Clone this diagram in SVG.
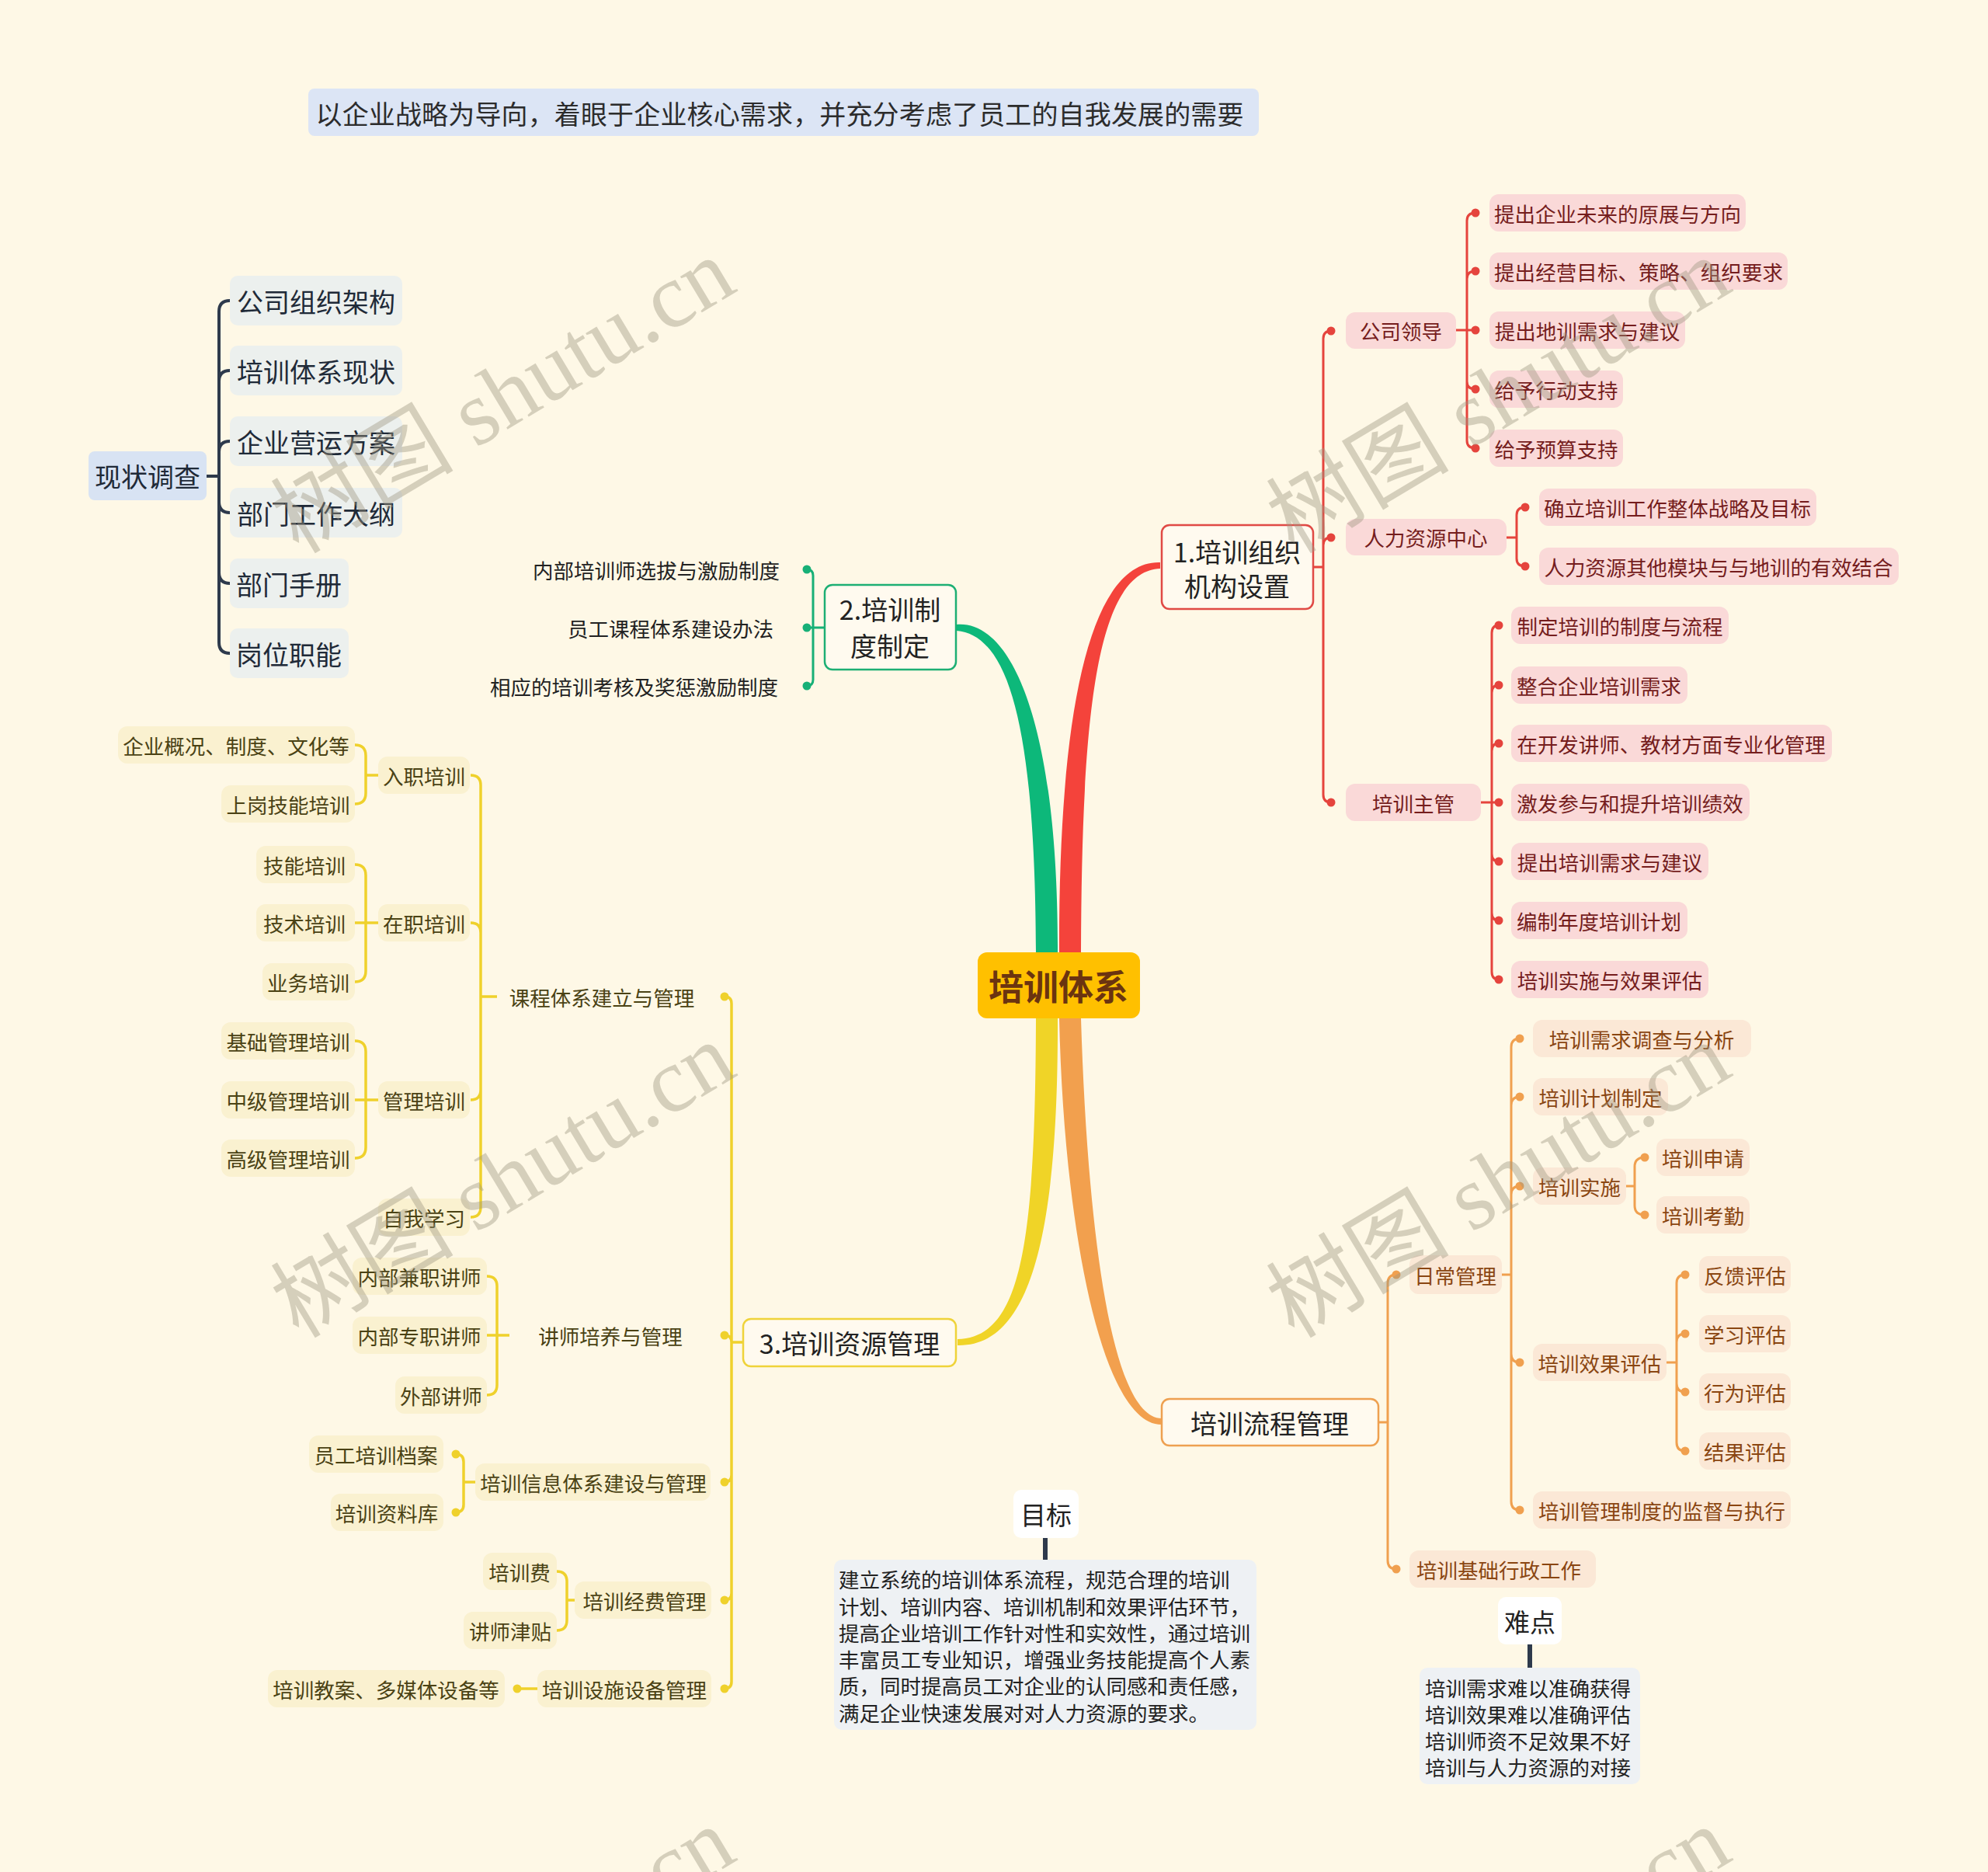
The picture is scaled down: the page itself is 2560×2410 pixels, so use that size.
<svg xmlns="http://www.w3.org/2000/svg" width="2560" height="2410" viewBox="0 0 2560 2410">
<style>
text{font-family:"Noto Sans CJK SC","Noto Sans",sans-serif;dominant-baseline:central}
.c{text-anchor:middle}.e{text-anchor:end}.st{text-anchor:start}
.f26{font-size:26.5px}.f34{font-size:34px}.f33{font-size:33px}
.l1{fill:#FFFAEF;stroke-width:2.5}
.rb{fill:#FAD9D8}.rt{fill:#751D1D}
.ob{fill:#FBE8D6}.ot{fill:#8A4612}
.yb{fill:#FAF1D0}.yt{fill:#4A4214}
.nb{fill:#ECF0EE}.nt{fill:#1F2A38}
.dk{fill:#222}
.cr{stroke:#E5443D;stroke-width:3;fill:none}
.cg{stroke:#17B077;stroke-width:3;fill:none}
.cy{stroke:#EFD12C;stroke-width:3.5;fill:none}
.co{stroke:#F0A04F;stroke-width:3;fill:none}
.cn{stroke:#2E3A4C;stroke-width:4;fill:none}
.dr{fill:#E5443D}.dg{fill:#17B077}.dy{fill:#EFD12C}.do{fill:#F0A04F}
.wm{font-family:"Liberation Serif","Noto Sans CJK SC",serif;font-size:118px;fill:#9E9680;fill-opacity:0.42;text-anchor:middle}
</style>
<rect width="2560" height="2410" fill="#FEF8E6"/>

<g id="connectors">
  <path d="M1334 1226C1333 930 1298 818 1232 812L1232 804C1302 798 1363 930 1362 1226Z" fill="#0DB87A"/>
  <path d="M1364 1226C1363 930 1400 721 1494 724L1494 732C1410 735 1393 930 1392 1226Z" fill="#F4433B"/>
  <path d="M1334 1311C1333 1600 1316 1722 1233 1724L1233 1732C1324 1734 1363 1600 1362 1311Z" fill="#F0D427"/>
  <path d="M1364 1311C1370 1585 1420 1835 1496 1834L1496 1826C1430 1826 1400 1575 1392 1311Z" fill="#F2A04E"/>

  <path class="cr" d="M1691 730H1704M1704 730V436Q1704 426 1714 426M1704 730V702Q1704 692 1714 692M1704 730V1023Q1704 1033 1714 1033"/>
  <path class="cr" d="M1875 425H1900M1889 426V284Q1889 274 1900 274M1889 426V359Q1889 349 1900 349M1889 426V491Q1889 501 1900 501M1889 426V567Q1889 577 1900 577"/>
  <path class="cr" d="M1940 692H1953M1953 692V663Q1953 653 1964 653M1953 692V719Q1953 729 1964 729"/>
  <path class="cr" d="M1907 1033H1930M1921 1033V815Q1921 805 1930 805M1921 1033V892Q1921 882 1930 882M1921 1033V967Q1921 957 1930 957M1921 1033V1099Q1921 1109 1930 1109M1921 1033V1175Q1921 1185 1930 1185M1921 1033V1251Q1921 1261 1930 1261"/>
  <g class="dr">
    <circle cx="1714" cy="426" r="5.5"/><circle cx="1714" cy="692" r="5.5"/><circle cx="1714" cy="1033" r="5.5"/>
    <circle cx="1900" cy="274" r="5.5"/><circle cx="1900" cy="349" r="5.5"/><circle cx="1900" cy="425" r="5.5"/><circle cx="1900" cy="501" r="5.5"/><circle cx="1900" cy="577" r="5.5"/>
    <circle cx="1964" cy="653" r="5.5"/><circle cx="1964" cy="729" r="5.5"/>
    <circle cx="1930" cy="805" r="5.5"/><circle cx="1930" cy="882" r="5.5"/><circle cx="1930" cy="957" r="5.5"/><circle cx="1930" cy="1033" r="5.5"/><circle cx="1930" cy="1109" r="5.5"/><circle cx="1930" cy="1185" r="5.5"/><circle cx="1930" cy="1261" r="5.5"/>
  </g>

  <path class="cg" d="M1062 808H1039M1047 808V741Q1047 733 1039 733M1047 808V875Q1047 883 1039 883"/>
  <g class="dg"><circle cx="1039" cy="733" r="5.5"/><circle cx="1039" cy="808" r="5.5"/><circle cx="1039" cy="883" r="5.5"/></g>

  <path class="cn" d="M266 613H282M282 613V401Q282 387 296 387M282 613V491Q282 477 296 477M282 613V582Q282 568 296 568M282 613V646Q282 660 296 660M282 613V737Q282 751 296 751M282 613V827Q282 841 296 841"/>

  <path class="cy" d="M957 1728H942M942 1728V1292Q942 1283 933 1283M942 1728Q942 1719 933 1719M942 1728V1899Q942 1908 933 1908M942 1728V2051Q942 2060 933 2060M942 1728V2165Q942 2174 933 2174"/>
  <path class="cy" d="M640 1283H619M619 1283V1011Q619 998 606 998M619 1283V1201Q619 1188 606 1188M619 1283V1403Q619 1416 606 1416M619 1283V1554Q619 1567 606 1567"/>
  <path class="cy" d="M487 998H471M471 998V973Q471 959 457 959M471 998V1021Q471 1035 457 1035"/>
  <path class="cy" d="M487 1188H457M471 1188V1127Q471 1113 457 1113M471 1188V1250Q471 1264 457 1264"/>
  <path class="cy" d="M487 1416H457M471 1416V1354Q471 1340 457 1340M471 1416V1477Q471 1491 457 1491"/>
  <path class="cy" d="M656 1719H627M640 1719V1656Q640 1643 627 1643M640 1719V1783Q640 1796 627 1796"/>
  <path class="cy" d="M612 1908H597M597 1908V1882Q597 1872 587 1872M597 1908V1937Q597 1947 587 1947"/>
  <path class="cy" d="M744 2060H730M730 2060V2036Q730 2023 717 2023M730 2060V2086Q730 2099 717 2099"/>
  <path class="cy" d="M692 2174H666"/>
  <g class="dy">
    <circle cx="933" cy="1283" r="5.5"/><circle cx="933" cy="1719" r="5.5"/><circle cx="933" cy="1908" r="5.5"/><circle cx="933" cy="2060" r="5.5"/><circle cx="933" cy="2174" r="5.5"/>
    <circle cx="587" cy="1872" r="5.5"/><circle cx="587" cy="1947" r="5.5"/><circle cx="666" cy="2174" r="5.5"/>
  </g>

  <path class="co" d="M1775 1831H1787M1787 1831V1652Q1787 1641 1798 1641M1787 1831V2009Q1787 2020 1798 2020"/>
  <path class="co" d="M1934 1641H1946M1946 1641V1348Q1946 1337 1957 1337M1946 1641V1423Q1946 1412 1957 1412M1946 1641V1538Q1946 1527 1957 1527M1946 1641V1743Q1946 1754 1957 1754M1946 1641V1933Q1946 1944 1957 1944"/>
  <path class="co" d="M2094 1527H2105M2105 1527V1502Q2105 1490 2118 1490M2105 1527V1552Q2105 1564 2118 1564"/>
  <path class="co" d="M2146 1754H2159M2159 1754V1652Q2159 1641 2170 1641M2159 1754V1728Q2159 1717 2170 1717M2159 1754V1781Q2159 1792 2170 1792M2159 1754V1857Q2159 1868 2170 1868"/>
  <g class="do">
    <circle cx="1798" cy="1641" r="5.5"/><circle cx="1798" cy="2020" r="5.5"/>
    <circle cx="1957" cy="1337" r="5.5"/><circle cx="1957" cy="1412" r="5.5"/><circle cx="1957" cy="1527" r="5.5"/><circle cx="1957" cy="1754" r="5.5"/><circle cx="1957" cy="1944" r="5.5"/>
    <circle cx="2118" cy="1490" r="5.5"/><circle cx="2118" cy="1564" r="5.5"/>
    <circle cx="2170" cy="1641" r="5.5"/><circle cx="2170" cy="1717" r="5.5"/><circle cx="2170" cy="1792" r="5.5"/><circle cx="2170" cy="1868" r="5.5"/>
  </g>

  <path d="M1346 1980V2008" stroke="#2E3A4C" stroke-width="6"/>
  <path d="M1970 2117V2147" stroke="#2E3A4C" stroke-width="6"/>
</g>

<g id="header"><rect x="397" y="114" width="1224" height="61" rx="8" fill="#DCE5F5"/><text class="c" font-size="34" x="1004" y="145" fill="#2C2C2C" textLength="1195" lengthAdjust="spacing">以企业战略为导向，着眼于企业核心需求，并充分考虑了员工的自我发展的需要</text></g>

<g id="root"><rect x="1259" y="1226" width="209" height="85" rx="12" fill="#FFC000"/><text class="c" x="1363" y="1268" font-size="45" font-weight="bold" fill="#6B3410">培训体系</text></g>

<g id="n-xzdc"><rect x="114" y="581" width="152" height="63" rx="8" fill="#D8E3F3"/><text class="c f34 nt" x="190" y="612">现状调查</text></g>
<g id="n-gszzjg"><rect class="nb" x="296" y="355" width="222" height="64" rx="10"/><text class="c f34 nt" x="407" y="387">公司组织架构</text></g>
<g id="n-pxtxxz"><rect class="nb" x="296" y="445" width="222" height="64" rx="10"/><text class="c f34 nt" x="407" y="477">培训体系现状</text></g>
<g id="n-qyyyfa"><rect class="nb" x="296" y="536" width="222" height="64" rx="10"/><text class="c f34 nt" x="407" y="568">企业营运方案</text></g>
<g id="n-bmgzdg"><rect class="nb" x="296" y="628" width="222" height="64" rx="10"/><text class="c f34 nt" x="407" y="660">部门工作大纲</text></g>
<g id="n-bmsc"><rect class="nb" x="296" y="719" width="153" height="64" rx="10"/><text class="c f34 nt" x="372" y="751">部门手册</text></g>
<g id="n-gwzn"><rect class="nb" x="296" y="809" width="153" height="64" rx="10"/><text class="c f34 nt" x="372" y="841">岗位职能</text></g>

<g id="g1"><rect class="l1" x="1062" y="753" width="169" height="109" rx="10" stroke="#1DAF74"/><text class="c f34 dk" x="1146" y="783">2.培训制</text><text class="c f34 dk" x="1146" y="830">度制定</text></g>
<g id="g1a"><text class="e f26 dk" x="1004" y="733">内部培训师选拔与激励制度</text></g>
<g id="g1b"><text class="e f26 dk" x="996" y="808">员工课程体系建设办法</text></g>
<g id="g1c"><text class="e f26 dk" x="1002" y="883">相应的培训考核及奖惩激励制度</text></g>

<g id="r1"><rect class="l1" x="1496" y="676" width="195" height="108" rx="10" stroke="#E04A45"/><text class="c f34 dk" x="1593" y="709">1.培训组织</text><text class="c f34 dk" x="1593" y="753">机构设置</text></g>
<g id="r-gsld"><rect class="rb" x="1733" y="402" width="142" height="47" rx="12"/><text class="c f26 rt" x="1804" y="425">公司领导</text></g>
<g id="r-rlzyzx"><rect class="rb" x="1733" y="668" width="207" height="47" rx="12"/><text class="c f26 rt" x="1836" y="691">人力资源中心</text></g>
<g id="r-pxzg"><rect class="rb" x="1733" y="1009" width="174" height="48" rx="12"/><text class="c f26 rt" x="1820" y="1033">培训主管</text></g>
<g id="r-a1"><rect class="rb" x="1918" y="250" width="330" height="48" rx="12"/><text class="c f26 rt" x="2083" y="274">提出企业未来的原展与方向</text></g>
<g id="r-a2"><rect class="rb" x="1918" y="325" width="384" height="48" rx="12"/><text class="c f26 rt" x="2110" y="349" textLength="372" lengthAdjust="spacing">提出经营目标、策略、组织要求</text></g>
<g id="r-a3"><rect class="rb" x="1918" y="401" width="252" height="48" rx="12"/><text class="c f26 rt" x="2044" y="425">提出地训需求与建议</text></g>
<g id="r-a4"><rect class="rb" x="1918" y="477" width="172" height="48" rx="12"/><text class="c f26 rt" x="2004" y="501">给予行动支持</text></g>
<g id="r-a5"><rect class="rb" x="1918" y="553" width="172" height="48" rx="12"/><text class="c f26 rt" x="2004" y="577">给予预算支持</text></g>
<g id="r-b1"><rect class="rb" x="1982" y="629" width="357" height="48" rx="12"/><text class="c f26 rt" x="2160" y="653" textLength="344" lengthAdjust="spacing">确立培训工作整体战略及目标</text></g>
<g id="r-b2"><rect class="rb" x="1982" y="705" width="463" height="48" rx="12"/><text class="c f26 rt" x="2213" y="729" textLength="449" lengthAdjust="spacing">人力资源其他模块与与地训的有效结合</text></g>
<g id="r-c1"><rect class="rb" x="1946" y="781" width="280" height="48" rx="12"/><text class="c f26 rt" x="2086" y="805">制定培训的制度与流程</text></g>
<g id="r-c2"><rect class="rb" x="1946" y="858" width="227" height="48" rx="12"/><text class="c f26 rt" x="2059" y="882">整合企业培训需求</text></g>
<g id="r-c3"><rect class="rb" x="1946" y="933" width="413" height="48" rx="12"/><text class="c f26 rt" x="2152" y="957">在开发讲师、教材方面专业化管理</text></g>
<g id="r-c4"><rect class="rb" x="1946" y="1009" width="307" height="48" rx="12"/><text class="c f26 rt" x="2099" y="1033">激发参与和提升培训绩效</text></g>
<g id="r-c5"><rect class="rb" x="1946" y="1085" width="254" height="48" rx="12"/><text class="c f26 rt" x="2073" y="1109">提出培训需求与建议</text></g>
<g id="r-c6"><rect class="rb" x="1946" y="1161" width="227" height="48" rx="12"/><text class="c f26 rt" x="2059" y="1185">编制年度培训计划</text></g>
<g id="r-c7"><rect class="rb" x="1946" y="1237" width="254" height="48" rx="12"/><text class="c f26 rt" x="2073" y="1261">培训实施与效果评估</text></g>

<g id="o1"><rect class="l1" x="1496" y="1801" width="279" height="60" rx="10" stroke="#EEA050"/><text class="c f34 dk" x="1635" y="1831">培训流程管理</text></g>
<g id="o-rcgl"><rect class="ob" x="1815" y="1616" width="119" height="50" rx="12"/><text class="c f26 ot" x="1874" y="1641">日常管理</text></g>
<g id="o-jcxz"><rect class="ob" x="1815" y="1996" width="240" height="48" rx="12"/><text class="c f26 ot" x="1930" y="2020">培训基础行政工作</text></g>
<g id="o-a1"><rect class="ob" x="1974" y="1313" width="281" height="48" rx="12"/><text class="c f26 ot" x="2114" y="1337">培训需求调查与分析</text></g>
<g id="o-a2"><rect class="ob" x="1974" y="1388" width="174" height="48" rx="12"/><text class="c f26 ot" x="2061" y="1412">培训计划制定</text></g>
<g id="o-a3"><rect class="ob" x="1974" y="1503" width="120" height="48" rx="12"/><text class="c f26 ot" x="2034" y="1527">培训实施</text></g>
<g id="o-a4"><rect class="ob" x="1974" y="1730" width="172" height="48" rx="12"/><text class="c f26 ot" x="2060" y="1754">培训效果评估</text></g>
<g id="o-a5"><rect class="ob" x="1974" y="1920" width="332" height="48" rx="12"/><text class="c f26 ot" x="2140" y="1944">培训管理制度的监督与执行</text></g>
<g id="o-b1"><rect class="ob" x="2133" y="1466" width="120" height="48" rx="12"/><text class="c f26 ot" x="2193" y="1490">培训申请</text></g>
<g id="o-b2"><rect class="ob" x="2133" y="1540" width="120" height="48" rx="12"/><text class="c f26 ot" x="2193" y="1564">培训考勤</text></g>
<g id="o-c1"><rect class="ob" x="2188" y="1617" width="118" height="48" rx="12"/><text class="c f26 ot" x="2247" y="1641">反馈评估</text></g>
<g id="o-c2"><rect class="ob" x="2188" y="1693" width="118" height="48" rx="12"/><text class="c f26 ot" x="2247" y="1717">学习评估</text></g>
<g id="o-c3"><rect class="ob" x="2188" y="1768" width="118" height="48" rx="12"/><text class="c f26 ot" x="2247" y="1792">行为评估</text></g>
<g id="o-c4"><rect class="ob" x="2188" y="1844" width="118" height="48" rx="12"/><text class="c f26 ot" x="2247" y="1868">结果评估</text></g>

<g id="y1"><rect class="l1" x="957" y="1698" width="274" height="61" rx="10" stroke="#EFD33A"/><text class="c f34 dk" x="1094" y="1728">3.培训资源管理</text></g>
<g id="y-kc"><text class="c f26 yt" x="775" y="1283">课程体系建立与管理</text></g>
<g id="y-js"><text class="c f26 yt" x="786" y="1719">讲师培养与管理</text></g>
<g id="y-xx"><rect class="yb" x="612" y="1884" width="303" height="48" rx="12"/><text class="c f26 yt" x="764" y="1908">培训信息体系建设与管理</text></g>
<g id="y-jf"><rect class="yb" x="740" y="2036" width="176" height="48" rx="12"/><text class="c f26 yt" x="830" y="2060">培训经费管理</text></g>
<g id="y-ss"><rect class="yb" x="692" y="2150" width="224" height="48" rx="12"/><text class="c f26 yt" x="804" y="2174">培训设施设备管理</text></g>
<g id="y-rz"><rect class="yb" x="487" y="974" width="118" height="48" rx="12"/><text class="c f26 yt" x="546" y="998">入职培训</text></g>
<g id="y-zz"><rect class="yb" x="487" y="1164" width="118" height="48" rx="12"/><text class="c f26 yt" x="546" y="1188">在职培训</text></g>
<g id="y-gl"><rect class="yb" x="487" y="1392" width="118" height="48" rx="12"/><text class="c f26 yt" x="546" y="1416">管理培训</text></g>
<g id="y-zw"><rect class="yb" x="487" y="1543" width="118" height="48" rx="12"/><text class="c f26 yt" x="546" y="1567">自我学习</text></g>
<g id="y-rz1"><rect class="yb" x="152" y="935" width="305" height="48" rx="12"/><text class="c f26 yt" x="304" y="959">企业概况、制度、文化等</text></g>
<g id="y-rz2"><rect class="yb" x="285" y="1011" width="172" height="48" rx="12"/><text class="c f26 yt" x="371" y="1035">上岗技能培训</text></g>
<g id="y-zz1"><rect class="yb" x="330" y="1089" width="127" height="48" rx="12"/><text class="c f26 yt" x="392" y="1113">技能培训</text></g>
<g id="y-zz2"><rect class="yb" x="330" y="1164" width="127" height="48" rx="12"/><text class="c f26 yt" x="392" y="1188">技术培训</text></g>
<g id="y-zz3"><rect class="yb" x="338" y="1240" width="119" height="48" rx="12"/><text class="c f26 yt" x="397" y="1264">业务培训</text></g>
<g id="y-gl1"><rect class="yb" x="285" y="1316" width="172" height="48" rx="12"/><text class="c f26 yt" x="371" y="1340">基础管理培训</text></g>
<g id="y-gl2"><rect class="yb" x="285" y="1392" width="172" height="48" rx="12"/><text class="c f26 yt" x="371" y="1416">中级管理培训</text></g>
<g id="y-gl3"><rect class="yb" x="285" y="1467" width="172" height="48" rx="12"/><text class="c f26 yt" x="371" y="1491">高级管理培训</text></g>
<g id="y-js1"><rect class="yb" x="454" y="1619" width="173" height="48" rx="12"/><text class="c f26 yt" x="540" y="1643">内部兼职讲师</text></g>
<g id="y-js2"><rect class="yb" x="454" y="1695" width="173" height="48" rx="12"/><text class="c f26 yt" x="540" y="1719">内部专职讲师</text></g>
<g id="y-js3"><rect class="yb" x="509" y="1772" width="118" height="48" rx="12"/><text class="c f26 yt" x="568" y="1796">外部讲师</text></g>
<g id="y-xx1"><rect class="yb" x="398" y="1848" width="173" height="48" rx="12"/><text class="c f26 yt" x="484" y="1872">员工培训档案</text></g>
<g id="y-xx2"><rect class="yb" x="426" y="1923" width="145" height="48" rx="12"/><text class="c f26 yt" x="498" y="1947">培训资料库</text></g>
<g id="y-jf1"><rect class="yb" x="622" y="1999" width="95" height="48" rx="12"/><text class="c f26 yt" x="669" y="2023">培训费</text></g>
<g id="y-jf2"><rect class="yb" x="597" y="2075" width="120" height="48" rx="12"/><text class="c f26 yt" x="657" y="2099">讲师津贴</text></g>
<g id="y-ss1"><rect class="yb" x="345" y="2150" width="305" height="48" rx="12"/><text class="c f26 yt" x="497" y="2174">培训教案、多媒体设备等</text></g>

<g id="goal"><rect x="1305" y="1918" width="84" height="62" rx="10" fill="#FFFFFF"/><text class="c f33 dk" x="1347" y="1949">目标</text></g>
<g id="goal-text"><rect x="1074" y="2008" width="544" height="219" rx="10" fill="#EEF1F4"/>
<text class="f26 dk" x="1080" y="2032">建立系统的培训体系流程，规范合理的培训</text>
<text class="f26 dk" x="1080" y="2067">计划、培训内容、培训机制和效果评估环节，</text>
<text class="f26 dk" x="1080" y="2101">提高企业培训工作针对性和实效性，通过培训</text>
<text class="f26 dk" x="1080" y="2135">丰富员工专业知识，增强业务技能提高个人素</text>
<text class="f26 dk" x="1080" y="2169">质，同时提高员工对企业的认同感和责任感，</text>
<text class="f26 dk" x="1080" y="2204">满足企业快速发展对对人力资源的要求。</text></g>
<g id="difficulty"><rect x="1929" y="2056" width="82" height="61" rx="10" fill="#FFFFFF"/><text class="c f33 dk" x="1970" y="2087">难点</text></g>
<g id="difficulty-text"><rect x="1828" y="2147" width="284" height="150" rx="10" fill="#EEF1F4"/>
<text class="f26 dk" x="1835" y="2172">培训需求难以准确获得</text>
<text class="f26 dk" x="1835" y="2206">培训效果难以准确评估</text>
<text class="f26 dk" x="1835" y="2240">培训师资不足效果不好</text>
<text class="f26 dk" x="1835" y="2274">培训与人力资源的对接</text></g>

<g id="watermarks">
<text class="wm" transform="translate(648 510) rotate(-31)">树图 shutu.cn</text>
<text class="wm" transform="translate(1930 510) rotate(-31)">树图 shutu.cn</text>
<text class="wm" transform="translate(648 1520) rotate(-31)">树图 shutu.cn</text>
<text class="wm" transform="translate(1930 1520) rotate(-31)">树图 shutu.cn</text>
<text class="wm" transform="translate(648 2530) rotate(-31)">树图 shutu.cn</text>
<text class="wm" transform="translate(1930 2530) rotate(-31)">树图 shutu.cn</text>
</g>
</svg>
